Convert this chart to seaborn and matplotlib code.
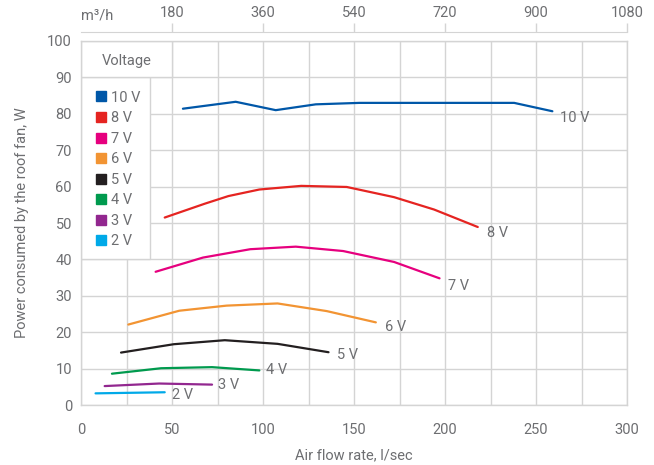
import matplotlib
matplotlib.use("Agg")
import matplotlib.pyplot as plt
from matplotlib import font_manager
from matplotlib.patches import Rectangle
from matplotlib.lines import Line2D
import seaborn as sns
import pandas as pd

# data: air flow (l/s) and power (W) per fan voltage
voltages = ["10 V", "8 V", "7 V", "6 V", "5 V", "4 V", "3 V", "2 V"]
flow = {
    "10 V": [56, 85, 107, 129, 153, 238, 259],
    "8 V": [46, 68, 81, 98, 121, 146, 172, 194, 218],
    "7 V": [41, 67, 93, 118, 144, 172, 197],
    "6 V": [26, 54, 80, 108, 135, 162],
    "5 V": [22, 51, 79, 108, 136],
    "4 V": [17, 44, 72, 98],
    "3 V": [13, 43, 72],
    "2 V": [8, 46],
}
power = {
    "10 V": [81.4, 83.3, 81.0, 82.6, 83.0, 83.0, 80.7],
    "8 V": [51.5, 55.3, 57.4, 59.2, 60.2, 59.9, 57.1, 53.7, 48.9],
    "7 V": [36.6, 40.5, 42.8, 43.5, 42.3, 39.3, 34.8],
    "6 V": [22.1, 25.9, 27.3, 27.9, 25.8, 22.7],
    "5 V": [14.4, 16.7, 17.8, 16.8, 14.5],
    "4 V": [8.6, 10.1, 10.4, 9.5],
    "3 V": [5.2, 5.9, 5.6],
    "2 V": [3.2, 3.5],
}
colors = ["#0057a8", "#e52421", "#e6007e", "#f29433", "#231f20", "#009a4e", "#92278f", "#00a9e8"]
top_ticks = [180, 360, 540, 720, 900, 1080]

# label offsets in pixels from the last point of each curve
label_offsets = {
    "10 V": (8, -7), "8 V": (9, -6), "7 V": (8, -8), "6 V": (9, -5),
    "5 V": (8, -3), "4 V": (7, 0), "3 V": (6, 0), "2 V": (7, -3),
}

rows = []
for v in voltages:
    for x, y in zip(flow[v], power[v]):
        rows.append({"Voltage": v, "flow": x, "power": y})
df = pd.DataFrame(rows)

sns.set_style("white")
names = {f.name for f in font_manager.fontManager.ttflist}
font = "Liberation Sans Narrow" if "Liberation Sans Narrow" in names else "Roboto"
plt.rcParams["font.family"] = [font, "DejaVu Sans"]
plt.rcParams["font.size"] = 10.5

textc = "#6d6e71"
gridc = "#d4d4d4"

fig = plt.figure(figsize=(6.54, 4.65), dpi=100)
ax = fig.add_axes([81 / 654, 60 / 465, 546 / 654, 364 / 465])

sns.lineplot(data=df, x="flow", y="power", hue="Voltage", hue_order=voltages,
             palette=dict(zip(voltages, colors)), sort=False, linewidth=1.6,
             legend=False, ax=ax, zorder=3)

ax.set_xlim(0, 300)
ax.set_ylim(0, 100)
ax.set_xticks(range(0, 301, 50))
ax.set_xticks(range(25, 300, 50), minor=True)
ax.set_yticks(range(0, 101, 10))
ax.set_axisbelow(True)
ax.grid(which="both", color=gridc, linewidth=1.0)
ax.tick_params(which="both", length=0)
ax.tick_params(axis="x", pad=13, labelcolor=textc)
ax.tick_params(axis="y", pad=6.5, labelcolor=textc)
for s in ax.spines.values():
    s.set_color(gridc)
    s.set_linewidth(1.0)

ax.set_xlabel("Air flow rate, l/sec", color=textc, labelpad=8)
ax.set_ylabel("Power consumed by the roof fan, W", color=textc, labelpad=13)

# curve end labels
for v in voltages:
    ax.annotate(v, (flow[v][-1], power[v][-1]), xytext=label_offsets[v],
                textcoords="offset pixels", ha="left", va="center", color=textc)

# secondary axis in m3/h
sec = ax.secondary_xaxis("top", functions=(lambda x: x * 3.6, lambda x: x / 3.6))
sec.set_xticks(top_ticks)
sec.spines["top"].set_position(("outward", 6.5))
sec.spines["top"].set_color(gridc)
sec.tick_params(length=6.5, color=gridc, width=1.0, pad=2, labelcolor=textc)
fig.text(81 / 654, 1 - 15 / 465, "m³/h", ha="left", va="center", color=textc)

# legend panel styled as a table over the grid
ax.add_patch(Rectangle((0, 40), 38, 50, facecolor="white", edgecolor=gridc, linewidth=1.0, zorder=1))
ax.add_patch(Rectangle((0, 90), 50, 10, facecolor="white", edgecolor=gridc, linewidth=1.0, zorder=1))
ax.text(25, 94.6, "Voltage", ha="center", va="center", color=textc)
handles = [Line2D([], [], marker="s", linestyle="none", markersize=7.5, color=c) for c in colors]
leg = ax.legend(handles, voltages, loc="upper left", bbox_to_anchor=(0.0126, 0.88),
                frameon=False, handletextpad=0.16, labelspacing=0.45, borderaxespad=0,
                handlelength=1.0)
for t in leg.get_texts():
    t.set_color(textc)

fig.savefig("out.png", dpi=100)
